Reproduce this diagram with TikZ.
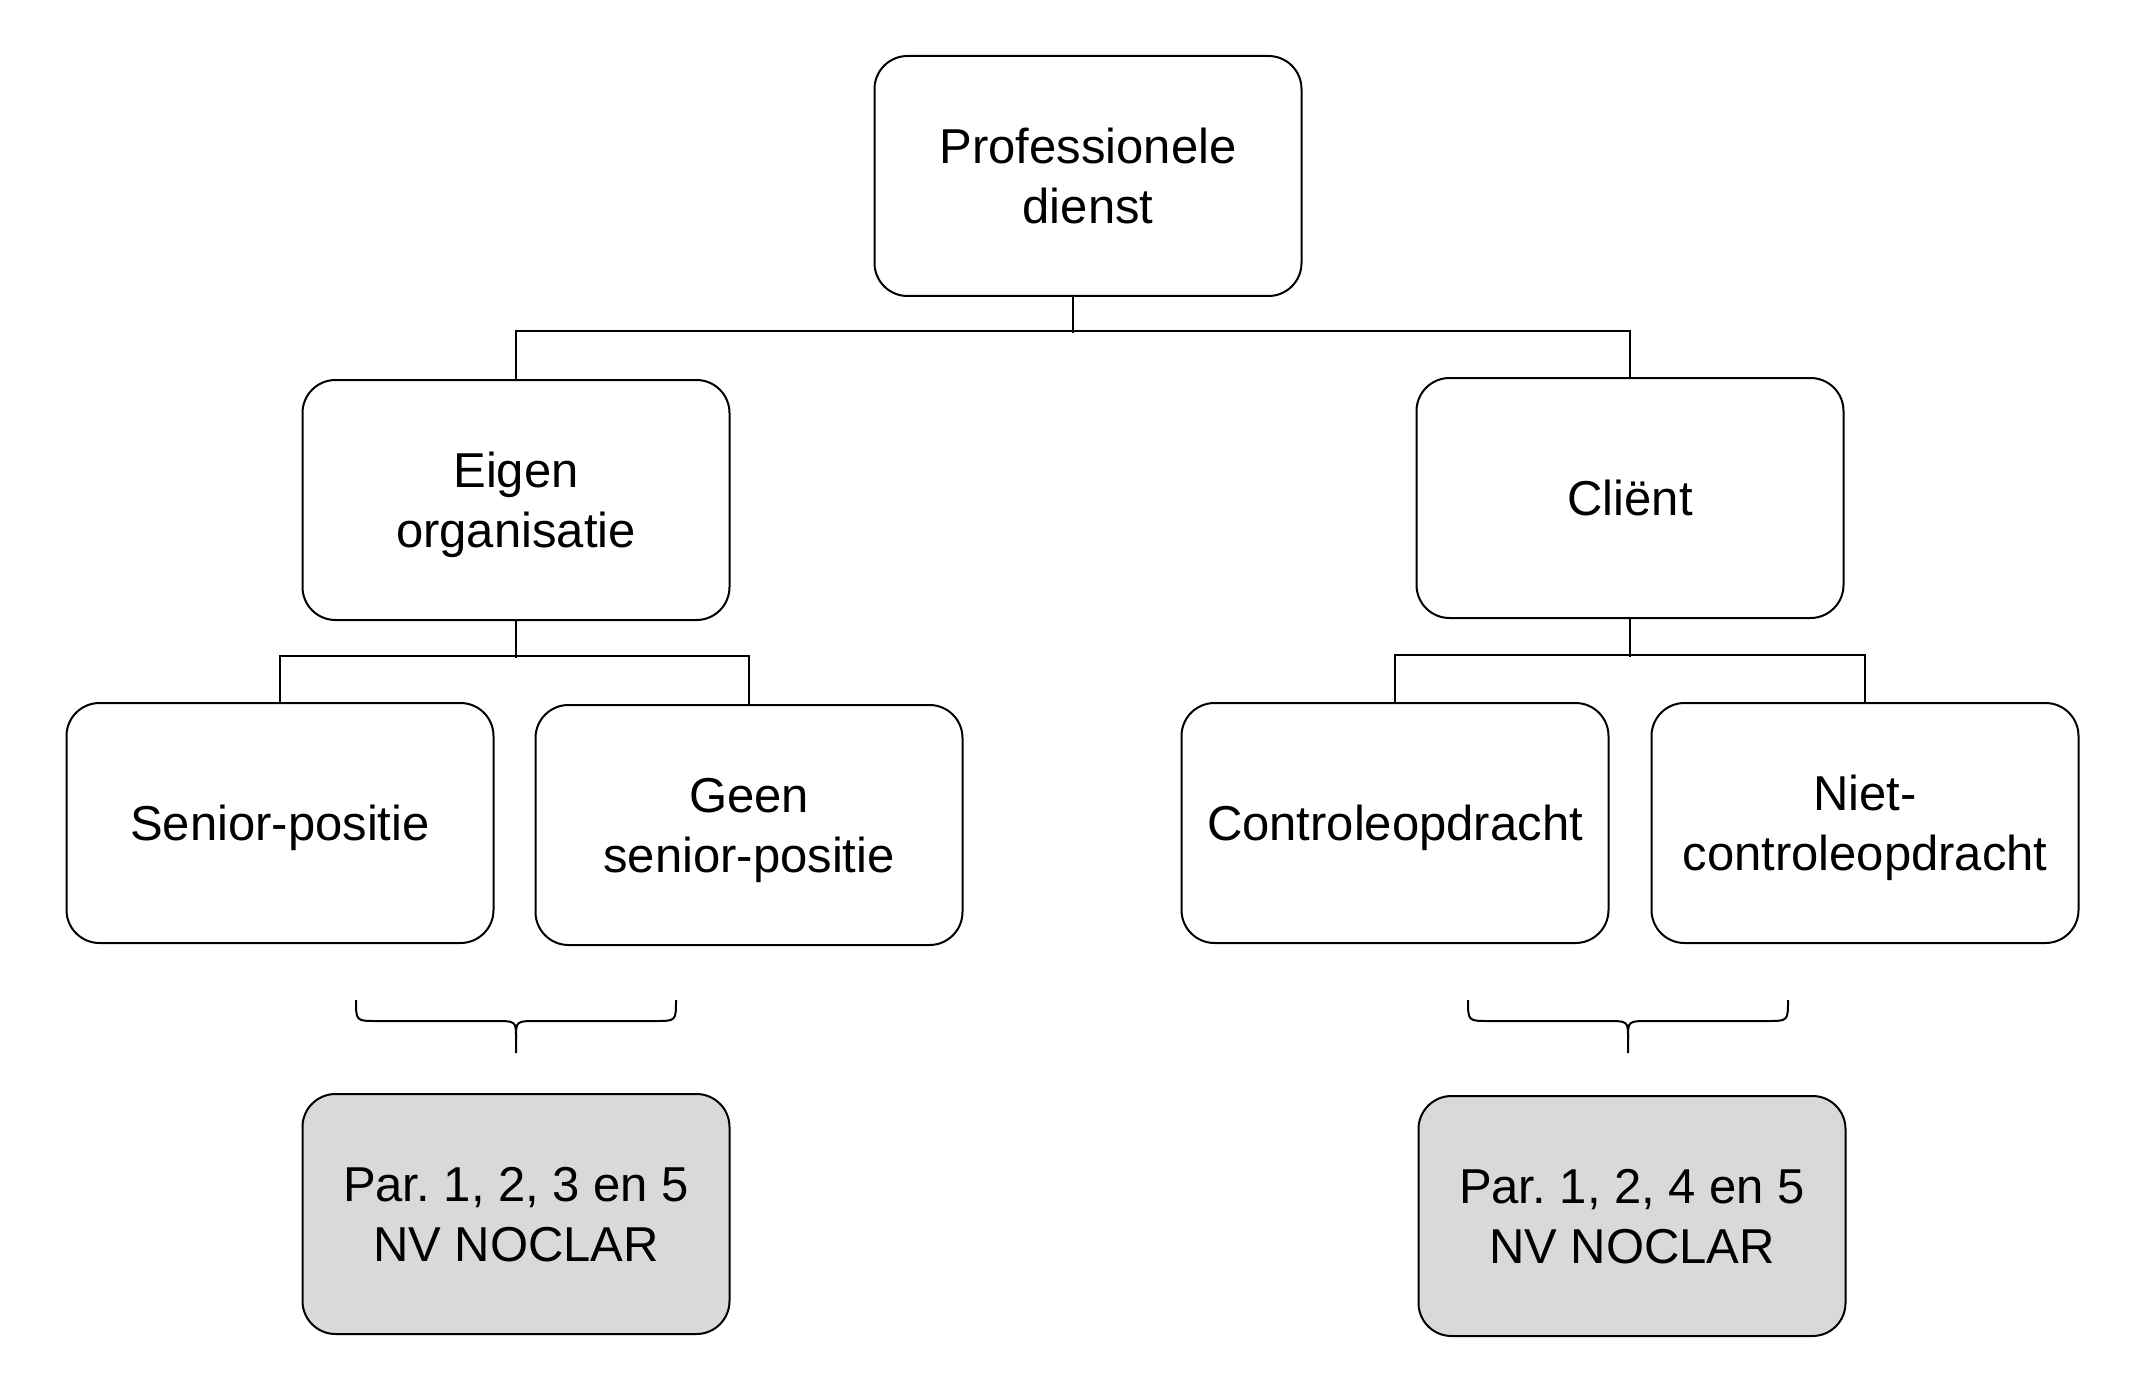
\documentclass[tikz,border=0pt]{standalone}
\usepackage{fontspec}
\setmainfont{Liberation Sans}
\frenchspacing
\definecolor{grijs}{RGB}{217,217,217}
\tikzset{
  lijn/.style={line width=1pt, black},
  blok/.style={draw, line width=1pt, rounded corners=16.5pt, minimum width=213.5pt, minimum height=120pt, inner sep=0pt, text depth=0pt, align=center, font=\fontsize{24.5}{30}\selectfont}
}
\newcommand{\accolade}[2]{ \draw[lijn] (#1 - 160 , #2) .. controls (#1 - 160 , #2 + 21) .. (#1 - 139 , #2 + 21) -- (#1 - 22 , #2 + 21) .. controls (#1 , #2 + 21) .. (#1 , #2 + 38) -- (#1 , #2 + 53); \draw[lijn] (#1 + 160 , #2) .. controls (#1 + 160 , #2 + 21) .. (#1 + 139 , #2 + 21) -- (#1 + 22 , #2 + 21) .. controls (#1 , #2 + 21) .. (#1 , #2 + 38);}

\begin{document}
\begin{tikzpicture}[x=0.5pt, y=-0.5pt]
        \useasboundingbox (0,0) rectangle (2136,1396);
        % top
        \node[blok] (prof) at (1088,176) {Professionele\\dienst};
        % row2
        \node[blok] (eigen) at (516,500) {Eigen\\organisatie};
        \node[blok] (client) at (1630,498) {Cliënt};
        % row3
        \node[blok] (senior) at (280,823) {Senior-positie};
        \node[blok] (geen) at (749,825) {Geen\\senior-positie};
        \node[blok] (controle) at (1395,823) {Controleopdracht};
        \node[blok] (niet) at (1865,823) {Niet-\\controleopdracht};
        % row4
        \node[blok, fill=grijs] (parL) at (516,1214) {Par. 1, 2, 3 en 5\\NV NOCLAR};
        \node[blok, fill=grijs] (parR) at (1632,1216) {Par. 1, 2, 4 en 5\\NV NOCLAR};

        % connectors
        \draw[lijn] ([xshift=-7.5pt]prof.south) -- ++(0,36);
        \draw[lijn] (eigen.north) -- ++(0,-48) -| (client.north);
        \draw[lijn] (eigen.south) -- ++(0,37);
        \draw[lijn] (senior.north) -- ++(0,-46) -| (geen.north);
        \draw[lijn] (client.south) -- ++(0,38);
        \draw[lijn] (controle.north) -- ++(0,-47) -| (niet.north);

        % braces
        \accolade{516}{1000}
        \accolade{1628}{1000}
    \end{tikzpicture}
\end{document}
